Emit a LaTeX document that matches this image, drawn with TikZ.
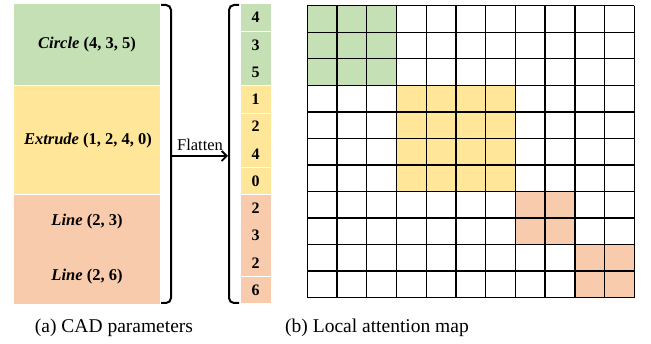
\documentclass[tikz,border=0pt]{standalone}
\usepackage{fontspec}
\setmainfont{Liberation Serif}
\usetikzlibrary{arrows.meta}
\definecolor{cgreen}{HTML}{C5E0B4}
\definecolor{cyellow}{HTML}{FFE699}
\definecolor{corange}{HTML}{F8CBAD}
\begin{document}
\begin{tikzpicture}[x=1pt,y=-1pt]
\tikzset{
  lbl/.style={font=\fontsize{16.5}{18}\selectfont\bfseries, inner sep=0pt},
  digit/.style={font=\fontsize{16}{18}\selectfont\bfseries, inner sep=0pt},
  captext/.style={font=\fontsize{19.5}{22}\selectfont, inner sep=0pt},
  brk/.style={line width=2pt, rounded corners=5pt},
  gridline/.style={line width=1.4pt},
  sep/.style={draw=white, line width=1pt}
}
\useasboundingbox (0,0) rectangle (651,344);
% left blocks
\fill[cgreen] (14,4) rectangle (160,86);
\fill[cyellow] (14,86) rectangle (160,195);
\fill[corange] (14,195) rectangle (160,304);
\draw[sep] (14,86) -- (160,86);
\draw[sep] (14,195) -- (160,195);
\node[lbl] (circle) at (87,45) {\itshape Circle\/\upshape{} (4, 3, 5)};
\node[lbl] (extrude) at (88,141) {\itshape Extrude\/\upshape{} (1, 2, 4, 0)};
\node[lbl] (line1) at (87,222) {\itshape Line\/\upshape{} (2, 3)};
\node[lbl] (line2) at (87,277) {\itshape Line\/\upshape{} (2, 6)};
% column
\foreach \a/\b/\c in {4/31.3/cgreen, 31.3/85.8/cgreen, 85.8/113.1/cyellow, 113.1/167.6/cyellow, 167.6/194.9/cyellow, 194.9/276.7/corange, 276.7/304/corange}
  \draw[sep, fill=\c] (240,\a) rectangle (271,\b);
\foreach \d [count=\i from 0] in {4,3,5,1,2,4,0,2,3,2,6}
  \node[digit] (d\i) at (255.5, {17.6+27.27*\i}) {\d};
% braces
\draw[brk] (161,5) -- (171,5) -- (171,303) -- (161,303);
\draw[brk] (239,5) -- (229,5) -- (229,303) -- (239,303);
\coordinate (rb) at (172,156);
\coordinate (lb) at (228,156);
\draw[line width=1.8pt, -{Straight Barb[length=5pt,width=10pt,line width=1.8pt]}] (rb) -- (lb);
\node[font=\fontsize{16.5}{18}\selectfont, inner sep=0pt] (flatten) at (200,145) {Flatten};
% grid
\def\xo{307.3}\def\yo{5.7}\def\dx{29.73}\def\dy{26.55}
\fill[cgreen] (\xo,\yo) rectangle ++({3*\dx},{3*\dy});
\fill[cyellow] ({\xo+3*\dx},{\yo+3*\dy}) rectangle ++({4*\dx},{4*\dy});
\fill[corange] ({\xo+7*\dx},{\yo+7*\dy}) rectangle ++({2*\dx},{2*\dy});
\fill[corange] ({\xo+9*\dx},{\yo+9*\dy}) rectangle ++({2*\dx},{2*\dy});
\foreach \i in {0,...,11} {
  \draw[gridline] ({\xo+\i*\dx},\yo) -- ({\xo+\i*\dx},{\yo+11*\dy});
  \draw[gridline] (\xo,{\yo+\i*\dy}) -- ({\xo+11*\dx},{\yo+\i*\dy});
}
% captions
\node[captext] (capa) at (114,328) {(a) CAD parameters};
\node[captext] (capb) at (377,328) {(b) Local attention map};
\end{tikzpicture}
\end{document}
